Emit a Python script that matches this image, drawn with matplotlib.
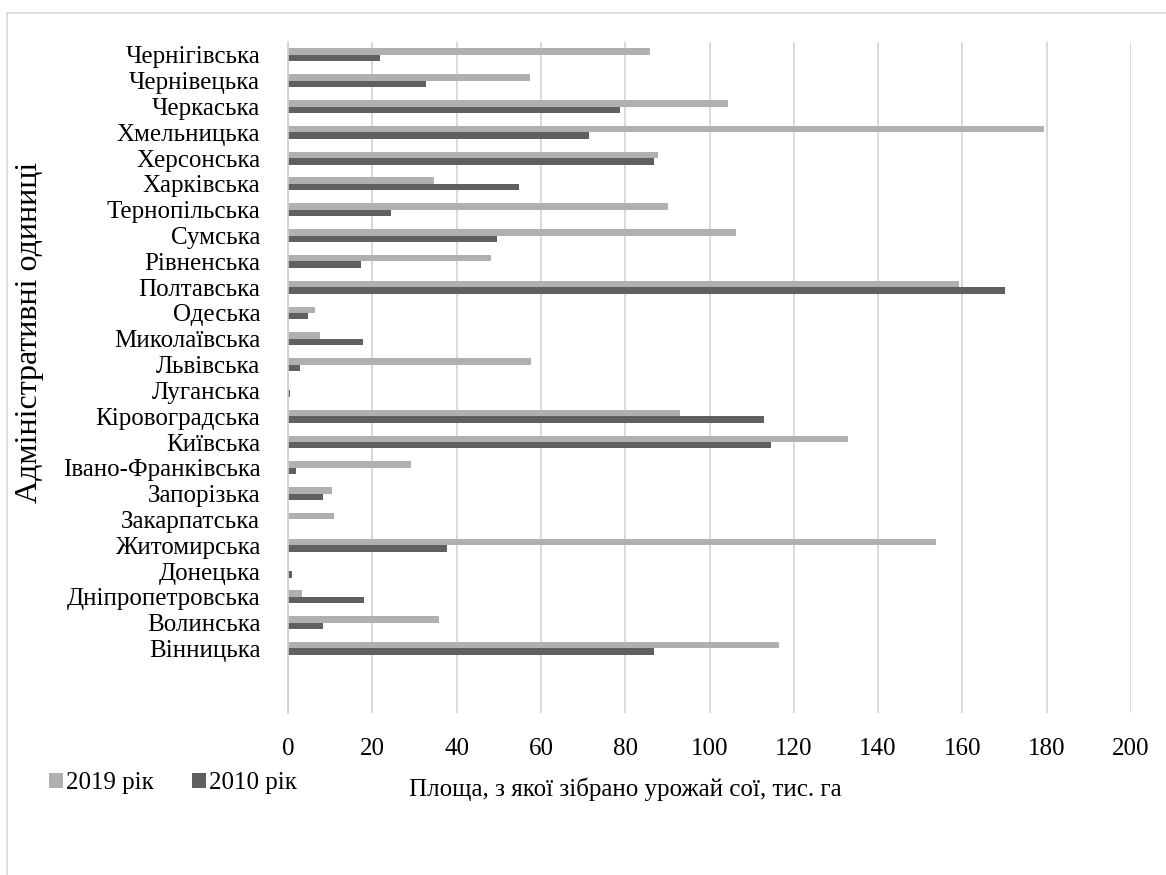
import matplotlib
matplotlib.use("Agg")
import matplotlib.pyplot as plt
from matplotlib.patches import Rectangle

###############################################################################
# data, bottom-to-top order (as drawn)
regions = ['Вінницька', 'Волинська', 'Дніпропетровська', 'Донецька',
           'Житомирська', 'Закарпатська', 'Запорізька', 'Івано-Франківська',
           'Київська', 'Кіровоградська', 'Луганська', 'Львівська',
           'Миколаївська', 'Одеська', 'Полтавська', 'Рівненська', 'Сумська',
           'Тернопільська', 'Харківська', 'Херсонська', 'Хмельницька',
           'Черкаська', 'Чернівецька', 'Чернігівська']
area_2019 = [116.4, 35.8, 3.4, 0.0, 153.8, 10.9, 10.4, 29.3, 132.9, 93.1,
             0.0, 57.7, 7.6, 6.5, 159.1, 48.1, 106.3, 90.2, 34.7, 87.7,
             179.3, 104.3, 57.4, 86.0]
area_2010 = [86.9, 8.2, 18.0, 0.9, 37.7, 0.0, 8.2, 2.0, 114.6, 112.9,
             0.5, 2.9, 17.7, 4.7, 170.0, 17.3, 49.5, 24.4, 54.9, 86.8,
             71.4, 78.7, 32.7, 21.8]
x_ticks = [0, 20, 40, 60, 80, 100, 120, 140, 160, 180, 200]
###############################################################################

W, H = 1166, 875
plt.rcParams['font.family'] = ['Liberation Serif', 'DejaVu Serif']
plt.rcParams['font.size'] = 18

fig = plt.figure(figsize=(W / 100, H / 100), dpi=100)
fig.patch.set_facecolor('white')

# outer chart border
fig.patches.append(Rectangle((7 / W, -0.05), 1.1, 1 - 13 / H + 0.05,
                             transform=fig.transFigure, fill=False,
                             edgecolor='#d9d9d9', linewidth=1.2))

ax = fig.add_axes([288 / W, 1 - 713 / H, (1131 - 288) / W, (713 - 42) / H])

pos = list(range(len(regions)))
h = 0.25
ax.barh([p + h / 2 for p in pos], area_2019, height=h, color='#b0b0b0',
        label='2019 рік', zorder=2)
ax.barh([p - h / 2 for p in pos], area_2010, height=h, color='#606060',
        label='2010 рік', zorder=2)

ax.set_xlim(0, 200)
ax.set_ylim(-2.5, 23.5)
ax.set_xticks(x_ticks)
ax.set_yticks(pos)
ax.set_yticklabels(regions)
ax.tick_params(axis='both', length=0, colors='black', labelsize=18)
ax.tick_params(axis='y', pad=20)
ax.tick_params(axis='x', pad=18)

ax.grid(axis='x', color='#d9d9d9', linewidth=1.4, zorder=0)
ax.set_axisbelow(True)
for s in ['top', 'right', 'bottom']:
    ax.spines[s].set_visible(False)
ax.spines['left'].set_color('#d0d0d0')
ax.spines['left'].set_linewidth(1.2)

fig.text(625 / W, 1 - 789 / H, 'Площа, з якої зібрано урожай сої, тис. га',
         ha='center', va='center', fontsize=18)
fig.text(30 / W, 1 - 332 / H, 'Адміністративні одиниці', rotation=90,
         ha='center', va='center', fontsize=23)

fig.legend(loc='center left', bbox_to_anchor=(49 / W, 1 - 783 / H),
           ncol=2, frameon=False, borderpad=0, borderaxespad=0,
           handlelength=0.55, handleheight=0.55, handletextpad=0.15,
           columnspacing=1.5, fontsize=18)

fig.savefig('out.png', dpi=100)
